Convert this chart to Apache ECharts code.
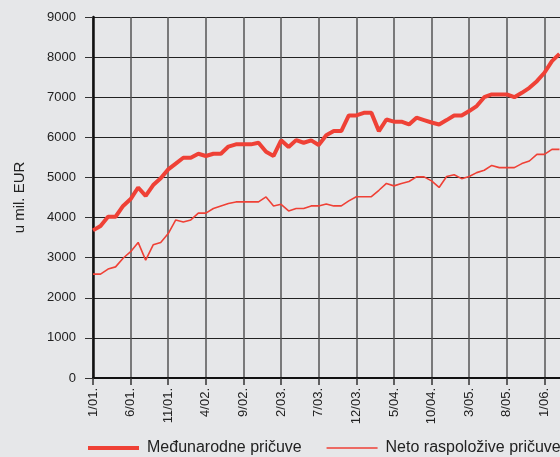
<!DOCTYPE html>
<html>
<head>
<meta charset="utf-8">
<script src="https://cdn.jsdelivr.net/npm/echarts@6/dist/echarts.min.js"></script>
<style>
  html, body { margin: 0; padding: 0; background: #e6e7e9; overflow: hidden; }
  #chart { width: 580px; height: 457px; }
</style>
</head>
<body>
<div id="chart"></div>
<script>
// months 1/01 .. 4/06 (last one has no data, the original is cut at the right edge)
var months = [
  '1/01.', '2/01.', '3/01.', '4/01.', '5/01.', '6/01.', '7/01.', '8/01.', '9/01.', '10/01.', '11/01.', '12/01.',
  '1/02.', '2/02.', '3/02.', '4/02.', '5/02.', '6/02.', '7/02.', '8/02.', '9/02.', '10/02.', '11/02.', '12/02.',
  '1/03.', '2/03.', '3/03.', '4/03.', '5/03.', '6/03.', '7/03.', '8/03.', '9/03.', '10/03.', '11/03.', '12/03.',
  '1/04.', '2/04.', '3/04.', '4/04.', '5/04.', '6/04.', '7/04.', '8/04.', '9/04.', '10/04.', '11/04.', '12/04.',
  '1/05.', '2/05.', '3/05.', '4/05.', '5/05.', '6/05.', '7/05.', '8/05.', '9/05.', '10/05.', '11/05.', '12/05.',
  '1/06.', '2/06.', '3/06.', '4/06.'
];

var medjunarodne = [
  3680, 3790, 4020, 4020, 4290, 4460, 4750, 4540, 4810, 4980,
  5200, 5345, 5490, 5490, 5590, 5535, 5590, 5590, 5770, 5825,
  5825, 5825, 5865, 5640, 5535, 5925, 5760, 5930, 5865, 5925,
  5810, 6050, 6155, 6155, 6545, 6545, 6610, 6610, 6155, 6445,
  6390, 6390, 6320, 6490, 6430, 6370, 6320, 6430, 6545, 6545,
  6655, 6780, 7000, 7070, 7070, 7070, 7000, 7110, 7235, 7400,
  7610, 7900, 8080, null
];

var neto = [
  2590, 2590, 2715, 2770, 2985, 3150, 3380, 2940, 3320, 3380,
  3600, 3940, 3890, 3940, 4110, 4110, 4225, 4290, 4350, 4390,
  4390, 4390, 4390, 4515, 4290, 4330, 4165, 4225, 4225, 4290,
  4290, 4340, 4290, 4290, 4415, 4520, 4520, 4520, 4680, 4850,
  4790, 4850, 4900, 5015, 5015, 4915, 4750, 5025, 5065, 4970,
  5025, 5120, 5180, 5300, 5245, 5245, 5245, 5345, 5410, 5575,
  5575, 5700, 5700, null
];

var font = '"Liberation Sans", Arial, Helvetica, sans-serif';
var red = '#ef4136';

var myChart = echarts.init(document.getElementById('chart'));

var option = {
  animation: false,
  backgroundColor: '#e6e7e9',
  textStyle: { fontFamily: font },
  grid: { left: 93, right: 13, top: 17, bottom: 79, containLabel: false },
  legend: {
    left: 81,
    top: 435,
    itemWidth: 51,
    itemHeight: 14,
    itemGap: 24,
    itemStyle: { opacity: 0 },   // hide the circle, keep the line
    textStyle: { fontFamily: font, fontSize: 16, color: '#222', padding: [0, 0, 0, 3] },
    data: [
      { name: 'Međunarodne pričuve', lineStyle: { width: 4, color: red } },
      { name: 'Neto raspoložive pričuve', lineStyle: { width: 1.6, color: red } }
    ]
  },
  xAxis: {
    type: 'category',
    data: months,
    boundaryGap: false,
    axisLine: { lineStyle: { color: '#111', width: 2 } },
    axisTick: { interval: 4, length: 7, lineStyle: { color: '#333', width: 1.5 } },
    axisLabel: {
      interval: 4, rotate: 90, margin: 10,
      fontFamily: font, fontSize: 13, color: '#222'
    },
    splitLine: { show: true, interval: 4, lineStyle: { color: '#555', width: 1.5 } }
  },
  yAxis: {
    type: 'value',
    min: 0,
    max: 9000,
    interval: 1000,
    name: 'u mil. EUR',
    nameLocation: 'middle',
    nameGap: 66,
    nameTextStyle: { fontFamily: font, fontSize: 15, color: '#222' },
    axisLine: { show: true, lineStyle: { color: '#111', width: 2.5 } },
    axisTick: { show: true, length: 8, lineStyle: { color: '#333', width: 1 } },
    axisLabel: {
      margin: 17, fontFamily: font, fontSize: 13, color: '#222',
      formatter: function (v) { return String(v); }
    },
    splitLine: { show: true, lineStyle: { color: '#222', width: 1 } }
  },
  series: [
    {
      name: 'Međunarodne pričuve',
      type: 'line',
      data: medjunarodne,
      showSymbol: false,
      symbol: 'none',
      color: red,
      lineStyle: { color: red, width: 4 },
      z: 3
    },
    {
      name: 'Neto raspoložive pričuve',
      type: 'line',
      data: neto,
      showSymbol: false,
      symbol: 'none',
      color: red,
      lineStyle: { color: red, width: 1.6 },
      z: 2
    }
  ]
};

myChart.setOption(option);
</script>
</body>
</html>
